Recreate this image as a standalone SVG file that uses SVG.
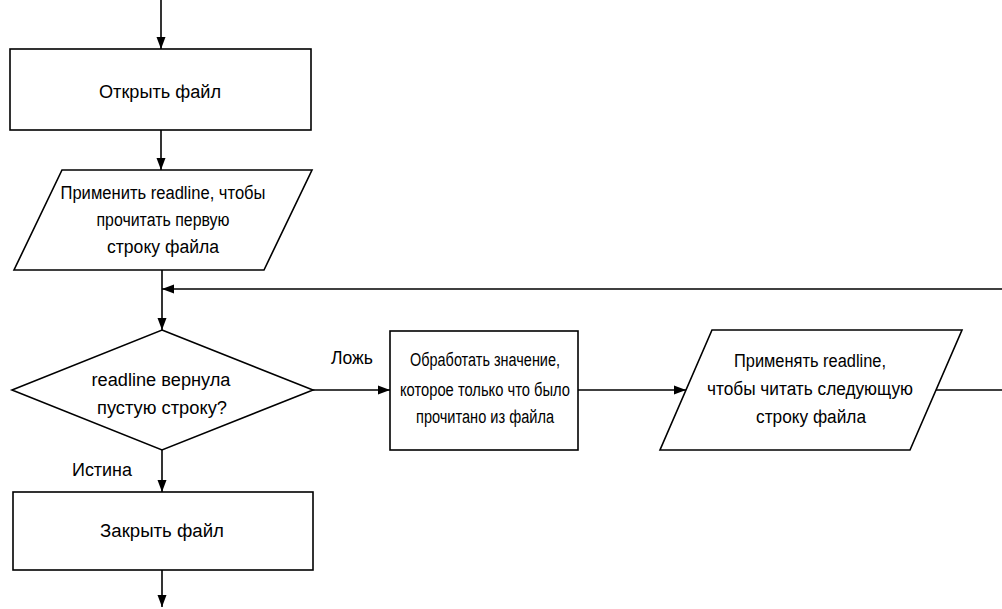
<svg xmlns="http://www.w3.org/2000/svg" width="1002" height="609" viewBox="0 0 1002 609">
  <defs>
    <marker id="arr" markerWidth="12" markerHeight="10" refX="12" refY="5" orient="auto" markerUnits="userSpaceOnUse">
      <path d="M0,0.5 L12,5 L0,9.5 Z" fill="#000"/>
    </marker>
    <style>
      .shape { fill: #fff; stroke: #000; stroke-width: 1.6; }
      .line { fill: none; stroke: #000; stroke-width: 1.6; }
      .arrow { fill: none; stroke: #000; stroke-width: 1.6; marker-end: url(#arr); }
      text { font-family: "Liberation Sans", Arial, sans-serif; font-size: 18px; fill: #000; text-anchor: middle; }
      .lbl { text-anchor: start; }
    </style>
  </defs>
  <rect width="1002" height="609" fill="#fff"/>

  <g id="connectors">
    <line class="arrow" x1="161" y1="0" x2="161" y2="49"/>
    <line class="arrow" x1="161" y1="130" x2="161" y2="170"/>
    <line class="arrow" x1="162" y1="270" x2="162" y2="330"/>
    <line class="arrow" x1="1002" y1="289" x2="162" y2="289"/>
    <line class="arrow" x1="313" y1="390" x2="390" y2="390"/>
    <line class="arrow" x1="578" y1="390" x2="686" y2="390"/>
    <line class="line" x1="936" y1="390" x2="1002" y2="390"/>
    <line class="arrow" x1="162" y1="450" x2="162" y2="492"/>
    <line class="arrow" x1="162" y1="570" x2="162" y2="607"/>
    <text class="lbl" x="331" y="364" textLength="42" lengthAdjust="spacingAndGlyphs">Ложь</text>
    <text class="lbl" x="72" y="476" textLength="60" lengthAdjust="spacingAndGlyphs">Истина</text>
  </g>

  <g id="open-file">
    <rect class="shape" x="10" y="49" width="301" height="81"/>
    <text x="160" y="98" textLength="122" lengthAdjust="spacingAndGlyphs">Открыть файл</text>
  </g>

  <g id="read-first">
    <polygon class="shape" points="62,170 312,170 264,270 14,270"/>
    <text x="163" y="199" textLength="205" lengthAdjust="spacingAndGlyphs">Применить readline, чтобы</text>
    <text x="163" y="226" textLength="133" lengthAdjust="spacingAndGlyphs">прочитать первую</text>
    <text x="163" y="253" textLength="112" lengthAdjust="spacingAndGlyphs">строку файла</text>
  </g>

  <g id="decision">
    <polygon class="shape" points="162,330 313,390 162,450 12,390"/>
    <text x="161" y="386" textLength="139" lengthAdjust="spacingAndGlyphs">readline вернула</text>
    <text x="162" y="414" textLength="130" lengthAdjust="spacingAndGlyphs">пустую строку?</text>
  </g>

  <g id="process">
    <rect class="shape" x="390" y="331" width="188" height="119"/>
    <text x="485" y="366" textLength="150" lengthAdjust="spacingAndGlyphs">Обработать значение,</text>
    <text x="485" y="396" textLength="170" lengthAdjust="spacingAndGlyphs">которое только что было</text>
    <text x="485" y="423" textLength="138" lengthAdjust="spacingAndGlyphs">прочитано из файла</text>
  </g>

  <g id="read-next">
    <polygon class="shape" points="712,330 962,330 910,450 660,450"/>
    <text x="810" y="367" textLength="152" lengthAdjust="spacingAndGlyphs">Применять readline,</text>
    <text x="810" y="395" textLength="206" lengthAdjust="spacingAndGlyphs">чтобы читать следующую</text>
    <text x="811" y="423" textLength="110" lengthAdjust="spacingAndGlyphs">строку файла</text>
  </g>

  <g id="close-file">
    <rect class="shape" x="13" y="492" width="300" height="78"/>
    <text x="162" y="537" textLength="124" lengthAdjust="spacingAndGlyphs">Закрыть файл</text>
  </g>
</svg>
